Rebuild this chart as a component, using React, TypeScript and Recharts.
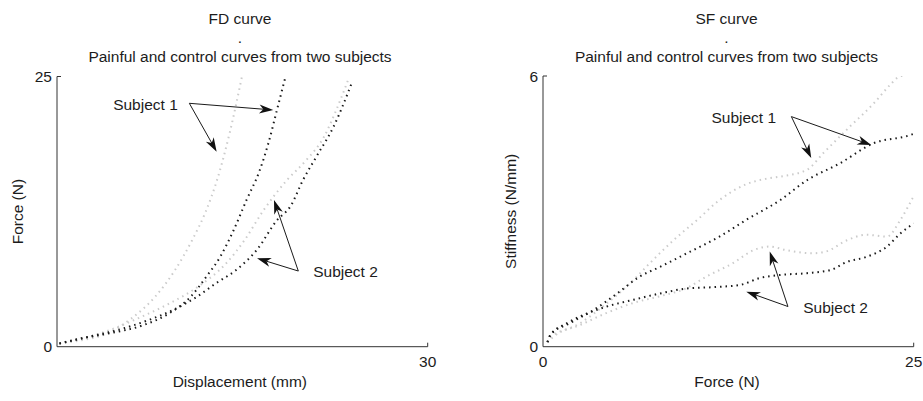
import React from 'react';
import { LineChart, Line, XAxis, YAxis, ReferenceLine, ReferenceDot } from 'recharts';

const FONT = '"Liberation Sans", Arial, Helvetica, sans-serif';
const FS = 15.5;
const TEXT = '#1c1c1c';
const AXIS = '#333333';
const LIGHT = '#cbcbcb';
const DARK = '#1a1a1a';

// ---------- FD curve (Displacement mm -> Force N) ----------
const fdS1LightX = [0.2, 2, 4, 6, 8, 9.5, 11, 12, 13, 14, 14.95];
const fdS1LightY = [0.3, 0.6, 1.2, 2.6, 4.7, 7.0, 10.0, 12.4, 15.6, 19.9, 24.9];
const fdS1DarkX = [0.2, 2.1, 4.3, 7.0, 9.1, 10.8, 12.1, 13.2, 14.3, 15.35, 16.4, 17.1, 17.8, 18.45];
const fdS1DarkY = [0.3, 0.8, 1.25, 2.0, 3.1, 4.6, 6.5, 8.3, 10.8, 13.6, 16.3, 18.8, 21.9, 24.8];
const fdS2LightX = [0.2, 1.9, 4.3, 6.7, 9.1, 11.6, 13.6, 15.2, 16.7, 18.6, 20.2, 21.6, 22.6, 23.6];
const fdS2LightY = [0.3, 0.7, 1.55, 2.7, 4.0, 5.7, 7.6, 9.9, 12.6, 15.4, 17.3, 19.4, 21.9, 24.8];
const fdS2DarkX = [0.2, 2.1, 5.4, 7.5, 9.4, 11.3, 12.9, 14.5, 16.2, 17.8, 18.9, 19.9, 21.0, 22.4, 23.2, 23.85];
const fdS2DarkY = [0.3, 0.8, 1.7, 2.5, 3.4, 4.6, 5.9, 7.1, 9.0, 11.7, 13.0, 15.4, 17.6, 20.4, 22.5, 24.4];
const fdXTicks = [30];
const fdYTicks = [0, 25];
// annotation anchors in data units: [textX, textY, fromX, fromY, tipAX, tipAY, tipBX, tipBY]
const fdSubject1 = [7.16, 22.43, 10.71, 22.52, 17.5, 21.9, 12.92, 18.04];
const fdSubject2 = [23.35, 6.94, 19.53, 7.0, 16.19, 8.18, 17.56, 13.57];

// ---------- SF curve (Force N -> Stiffness N/mm) ----------
const sfS1LightX = [0.3, 0.7, 2.5, 4.3, 5.9, 7.2, 8.8, 10.4, 11.9, 13.7, 15.0, 16.0, 17.8, 18.9, 20.7, 22.3, 23.4, 24.0, 25];
const sfS1LightY = [0.1, 0.22, 0.52, 0.96, 1.41, 1.85, 2.36, 2.81, 3.25, 3.6, 3.72, 3.77, 3.92, 4.29, 4.88, 5.39, 5.8, 5.98, 6.05];
const sfS1DarkX = [0.3, 0.5, 1.8, 3.4, 5.0, 6.5, 7.9, 9.7, 11.9, 13.7, 16.0, 17.8, 20.0, 22.3, 24.75, 25];
const sfS1DarkY = [0.1, 0.26, 0.52, 0.81, 1.18, 1.55, 1.77, 2.07, 2.44, 2.81, 3.25, 3.69, 4.06, 4.51, 4.69, 4.72];
const sfS2LightX = [0.3, 0.5, 2.5, 4.3, 6.1, 7.9, 9.7, 11.0, 12.8, 14.2, 15.3, 16.4, 18.2, 19.1, 20.5, 21.8, 23.2, 24.1, 25];
const sfS2LightY = [0.1, 0.21, 0.48, 0.75, 0.97, 1.12, 1.3, 1.55, 1.85, 2.14, 2.22, 2.14, 2.07, 2.11, 2.36, 2.48, 2.44, 2.81, 3.34];
const sfS2DarkX = [0.3, 0.5, 1.6, 3.0, 4.3, 6.1, 7.9, 9.7, 11.5, 13.3, 14.6, 16.0, 17.8, 19.4, 20.5, 21.8, 23.2, 24.1, 25];
const sfS2DarkY = [0.1, 0.26, 0.52, 0.74, 0.89, 1.04, 1.18, 1.29, 1.32, 1.37, 1.52, 1.59, 1.63, 1.7, 1.88, 1.99, 2.22, 2.51, 2.73];
const sfXTicks = [0, 25];
const sfYTicks = [0, 6];
const sfSubject1 = [13.54, 5.08, 16.75, 5.1, 22.14, 4.47, 18.09, 4.18];
const sfSubject2 = [19.73, 0.87, 16.52, 0.89, 13.71, 1.22, 15.29, 2.11];

const zip = (xs: number[], ys: number[]) => xs.map((x, i) => ({ x, y: ys[i] }));

const textStyle = { fill: TEXT, fontSize: FS, fontFamily: FONT } as const;

const YTick = (props: any) => {
  const { x, y, payload } = props;
  return (
    <g>
      <text x={x - 5} y={y} textAnchor="end" dominantBaseline="central" {...textStyle}>
        {payload.value}
      </text>
      {payload.value !== 0 && <line x1={x} x2={x + 4} y1={y} y2={y} stroke={AXIS} strokeWidth={1} />}
    </g>
  );
};

const XTick = (props: any) => {
  const { x, y, payload } = props;
  return (
    <g>
      <text x={x} y={y + 20} textAnchor="middle" {...textStyle}>
        {payload.value}
      </text>
      {payload.value !== 0 && <line x1={x} x2={x} y1={y} y2={y - 4} stroke={AXIS} strokeWidth={1} />}
    </g>
  );
};

const ArrowShape = (props: any) => {
  const { x1, y1, x2, y2 } = props;
  if ([x1, y1, x2, y2].some((v) => typeof v !== 'number' || isNaN(v))) return null;
  const dx = x2 - x1;
  const dy = y2 - y1;
  const len = Math.hypot(dx, dy) || 1;
  const ux = dx / len;
  const uy = dy / len;
  const px = -uy;
  const py = ux;
  const L = 14;
  const W = 4.5;
  const N = 4;
  const bx = x2 - ux * L;
  const by = y2 - uy * L;
  const nx = x2 - ux * (L - N);
  const ny = y2 - uy * (L - N);
  const pts = `${x2},${y2} ${bx + px * W},${by + py * W} ${nx},${ny} ${bx - px * W},${by - py * W}`;
  return (
    <g>
      <line x1={x1} y1={y1} x2={nx} y2={ny} stroke="#1a1a1a" strokeWidth={1} />
      <polygon points={pts} fill="#111" stroke="none" />
    </g>
  );
};

const TextShape = (label: string) => (props: any) => {
  const { cx, cy } = props;
  return (
    <text x={cx} y={cy} textAnchor="middle" dominantBaseline="central" {...textStyle}>
      {label}
    </text>
  );
};

const lineStyle = {
  strokeWidth: 2,
  strokeDasharray: '1.5 4',
  dot: false,
  activeDot: false,
  isAnimationActive: false,
  type: 'monotone' as const,
};

const annotation = (key: string, label: string, a: number[]) => [
  <ReferenceDot key={key + 't'} x={a[0]} y={a[1]} r={0} ifOverflow="visible" shape={TextShape(label)} />,
  <ReferenceLine
    key={key + 'a'}
    segment={[{ x: a[2], y: a[3] }, { x: a[4], y: a[5] }]}
    ifOverflow="visible"
    shape={ArrowShape}
  />,
  <ReferenceLine
    key={key + 'b'}
    segment={[{ x: a[2], y: a[3] }, { x: a[6], y: a[7] }]}
    ifOverflow="visible"
    shape={ArrowShape}
  />,
];

const Title = ({ cx, lines }: { cx: number; lines: [string, number][] }) => (
  <>
    {lines.map(([t, cy], i) => (
      <div
        key={i}
        style={{
          position: 'absolute',
          left: cx,
          top: cy,
          transform: 'translate(-50%, -50%)',
          whiteSpace: 'nowrap',
          fontFamily: FONT,
          fontSize: FS,
          lineHeight: 1,
          color: TEXT,
        }}
      >
        {t}
      </div>
    ))}
  </>
);

const yLabel = (text: string, dx: number) => ({
  content: (p: any) => {
    const vb = p.viewBox || { x: 0, y: 0, width: 0, height: 0 };
    const cx = vb.x + dx;
    const cy = vb.y + vb.height / 2;
    return (
      <text
        x={cx}
        y={cy}
        textAnchor="middle"
        dominantBaseline="central"
        transform={`rotate(-90, ${cx}, ${cy})`}
        {...textStyle}
      >
        {text}
      </text>
    );
  },
});

const xLabel = (text: string, dx: number) => ({
  content: (p: any) => {
    const vb = p.viewBox || { x: 0, y: 0, width: 0, height: 0 };
    return (
      <text
        x={vb.x + vb.width / 2 + dx}
        y={vb.y + 35}
        textAnchor="middle"
        dominantBaseline="central"
        {...textStyle}
      >
        {text}
      </text>
    );
  },
});

export default function App() {
  return (
    <div style={{ position: 'absolute', left: 0, top: 0, width: 923, height: 401, background: '#fff', overflow: 'hidden' }}>
      <Title cx={240} lines={[['FD curve', 19], ['.', 37.6], ['Painful and control curves from two subjects', 57]]} />
      <Title cx={726.5} lines={[['SF curve', 19], ['.', 37.6], ['Painful and control curves from two subjects', 57]]} />

      <div style={{ position: 'absolute', left: 0, top: 0 }}>
        <LineChart width={461} height={401} margin={{ top: 76.5, right: 33.3, bottom: 0, left: 0 }}>
          <XAxis
            type="number"
            dataKey="x"
            domain={[0, 30]}
            ticks={fdXTicks}
            interval={0}
            allowDataOverflow
            height={54.3}
            tickSize={0}
            tickMargin={0}
            tickLine={false}
            tick={<XTick />}
            axisLine={{ stroke: AXIS, strokeWidth: 1 }}
            label={xLabel('Displacement (mm)', -2.5)}
          />
          <YAxis
            type="number"
            dataKey="y"
            domain={[0, 25]}
            ticks={fdYTicks}
            interval={0}
            allowDataOverflow
            width={57}
            tickSize={0}
            tickMargin={0}
            tickLine={false}
            tick={<YTick />}
            axisLine={{ stroke: AXIS, strokeWidth: 1 }}
            label={yLabel('Force (N)', 18)}
          />
          <Line data={zip(fdS1LightX, fdS1LightY)} dataKey="y" stroke={LIGHT} {...lineStyle} />
          <Line data={zip(fdS2LightX, fdS2LightY)} dataKey="y" stroke={LIGHT} {...lineStyle} />
          <Line data={zip(fdS1DarkX, fdS1DarkY)} dataKey="y" stroke={DARK} {...lineStyle} />
          <Line data={zip(fdS2DarkX, fdS2DarkY)} dataKey="y" stroke={DARK} {...lineStyle} />
          {annotation('fd1', 'Subject 1', fdSubject1)}
          {annotation('fd2', 'Subject 2', fdSubject2)}
        </LineChart>
      </div>

      <div style={{ position: 'absolute', left: 463, top: 0 }}>
        <LineChart width={460} height={401} margin={{ top: 76, right: 9.3, bottom: 0, left: 0 }}>
          <XAxis
            type="number"
            dataKey="x"
            domain={[0, 25]}
            ticks={sfXTicks}
            interval={0}
            allowDataOverflow
            height={54.3}
            tickSize={0}
            tickMargin={0}
            tickLine={false}
            tick={<XTick />}
            axisLine={{ stroke: AXIS, strokeWidth: 1 }}
            label={xLabel('Force (N)', -1.3)}
          />
          <YAxis
            type="number"
            dataKey="y"
            domain={[0, 6]}
            ticks={sfYTicks}
            interval={0}
            allowDataOverflow
            width={80}
            tickSize={0}
            tickMargin={0}
            tickLine={false}
            tick={<YTick />}
            axisLine={{ stroke: AXIS, strokeWidth: 1 }}
            label={yLabel('Stiffness (N/mm)', 48)}
          />
          <Line data={zip(sfS1LightX, sfS1LightY)} dataKey="y" stroke={LIGHT} {...lineStyle} />
          <Line data={zip(sfS2LightX, sfS2LightY)} dataKey="y" stroke={LIGHT} {...lineStyle} />
          <Line data={zip(sfS1DarkX, sfS1DarkY)} dataKey="y" stroke={DARK} {...lineStyle} />
          <Line data={zip(sfS2DarkX, sfS2DarkY)} dataKey="y" stroke={DARK} {...lineStyle} />
          {annotation('sf1', 'Subject 1', sfSubject1)}
          {annotation('sf2', 'Subject 2', sfSubject2)}
        </LineChart>
      </div>
    </div>
  );
}
